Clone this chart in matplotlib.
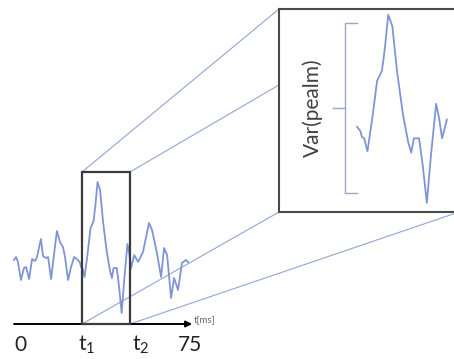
import numpy as np
import matplotlib.pyplot as plt
from matplotlib.patches import Rectangle, ConnectionPatch

plt.rcParams["font.family"] = ["Lato", "DejaVu Sans"]
plt.rcParams["mathtext.fontset"] = "custom"
plt.rcParams["mathtext.rm"] = "Lato"
plt.rcParams["mathtext.it"] = "Lato"

# recorded trace: time (ms) and amplitude (a.u.)
t_ms = np.array([
    0.0, 0.9, 1.7, 3.0, 4.3, 5.2, 6.5, 7.8, 9.1, 9.9, 11.6, 12.5, 13.8,
    14.7, 16.0, 16.8, 18.5, 19.8, 21.1, 22.0, 23.3, 24.6, 25.9, 27.6,
    28.5, 28.9, 29.5, 30.4, 31.7, 33.0, 34.3, 35.1, 36.0, 37.1, 38.4,
    40.0, 41.4, 42.2, 42.9, 44.3, 45.3, 46.4, 47.5, 48.9, 49.7, 50.5,
    51.8, 53.5, 55.6, 58.2, 59.5, 61.6, 63.4, 64.7, 66.0, 67.7, 69.0,
    70.7, 72.4, 74.1, 75.0,
])
amplitude = np.array([
    1.0, 1.3, 0.8, -1.0, 0.2, 0.3, -0.9, 1.1, 0.9, 1.3, 3.1, 1.4, 1.2,
    1.3, -0.9, 0.7, 3.9, 2.8, 2.3, 1.3, -1.0, 0.3, 1.3, 1.0,
    0.7, 0.3, 0.2, -0.7, 1.6, 4.2, 4.9, 6.5, 8.8, 8.0, 4.8,
    1.8, -0.1, -0.8, 0.2, 0.2, -1.7, -4.3, -1.0, 2.6, 1.6, 0.2,
    1.5, 0.8, 1.8, 4.7, 4.0, 1.7, -0.7, 2.2, 1.5, -2.8, -0.8,
    -2.0, 0.7, 1.0, 0.8,
])

# analysis window and the span shown enlarged
t1, t2 = 29.3, 50.0
zoom_span = (27.5, 51.9)
tick_labels = ["0", r"$\mathregular{t_1}$", r"$\mathregular{t_2}$", "75"]
tick_pos = [0.0, t1, t2, 75.0]

trace_color = "#7f95d6"
link_color = "#93a5d6"
frame_color = "#3c3c3c"
baseline = -5.4
window_top = 9.8

fig = plt.figure(figsize=(4.54, 3.59), dpi=100)
ax = fig.add_axes([0, 0, 1, 1])
ax.set_xlim(-14 / 2.32, 440 / 2.32)
ax.set_ylim(-8.9, 27.0)
ax.axis("off")

ax.plot(t_ms, amplitude, color=trace_color, lw=1.3, zorder=2)

# time axis with arrow head
ax.annotate("", xy=(76.8, baseline), xytext=(0, baseline),
            arrowprops=dict(arrowstyle="-|>", color="black", lw=1.4,
                            mutation_scale=9, shrinkA=0, shrinkB=0))
ax.text(77.3, baseline + 0.35, "t[ms]", fontsize=7, color="#666666",
        ha="left", va="center")

offsets = [6, 5, 11, 2]
for pos, lab, dx in zip(tick_pos, tick_labels, offsets):
    ax.annotate(lab, xy=(pos, baseline), xytext=(dx * 0.72, -15),
                textcoords="offset points", ha="center", va="center",
                fontsize=15, color="#222222")

# selected window on the trace
ax.add_patch(Rectangle((t1, baseline), t2 - t1, window_top - baseline,
                       fill=False, ec=frame_color, lw=1.6, zorder=3))

# enlarged view
axins = fig.add_axes([279 / 454, 1 - 212 / 359, 180 / 454, 203 / 359])
axins.set_xlim(6.57, 55.06)
axins.set_ylim(-4.93, 9.20)
axins.set_xticks([])
axins.set_yticks([])
axins.set_facecolor("white")
for sp in axins.spines.values():
    sp.set_color("#4a4a4a")
    sp.set_linewidth(1.5)

mask = (t_ms >= zoom_span[0]) & (t_ms <= zoom_span[1])
axins.plot(t_ms[mask], amplitude[mask], color=trace_color, lw=1.3)

# variance bracket
bracket = "#9ba6cc"
axins.plot([0.433, 0.367, 0.367, 0.433], [0.931, 0.931, 0.094, 0.094],
           transform=axins.transAxes, color=bracket, lw=1.0)
axins.plot([0.30, 0.367], [0.512, 0.512], transform=axins.transAxes,
           color=bracket, lw=1.0)
axins.text(0.189, 0.512, "Var(pealm)", transform=axins.transAxes,
           rotation=90, ha="center", va="center", fontsize=15,
           color="#404040")

# projection lines from window corners to the enlarged view
links = [
    ((t1, window_top), (0.0, 1.0)),
    ((t2, window_top), (0.0, 0.626)),
    ((t1, baseline), (0.0, 0.0)),
    ((t2, baseline), (1.0, 0.0)),
]
for xy_a, xy_b in links:
    con = ConnectionPatch(xyA=xy_a, coordsA=ax.transData,
                          xyB=xy_b, coordsB=axins.transAxes,
                          color=link_color, lw=0.8)
    ax.add_artist(con)

fig.savefig("out.png", dpi=100)
